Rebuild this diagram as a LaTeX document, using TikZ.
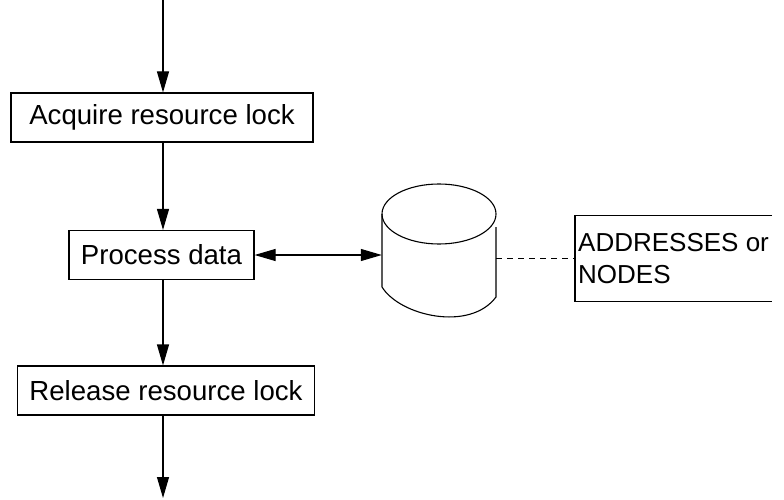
\documentclass[tikz,border=0pt]{standalone}
\usepackage{fontspec}
\setmainfont{Liberation Sans}
\usetikzlibrary{arrows.meta}

\tikzset{
  stepbox/.style={draw, line width=1.1pt, inner xsep=12pt, inner ysep=0pt, minimum height=49pt},
  flow/.style={line width=1.1pt, -{Triangle[length=21pt,width=12pt]}},
  dflow/.style={line width=1.1pt, {Triangle[length=21pt,width=12pt]}-{Triangle[length=21pt,width=12pt]}},
}

\begin{document}
\begin{tikzpicture}[x=1pt,y=-1pt,font=\fontsize{27.6}{32}\selectfont]
    \useasboundingbox (0,0) rectangle (784,500);

    \coordinate (start) at (163,0);
    \node[stepbox, minimum width=302pt] (acquire) at (162,117.5) {Acquire resource lock};
    \node[stepbox] (process) at (161.5,255) {Process data};
    \node[stepbox, minimum width=296pt] (release) at (166,390.5) {Release resource lock};
    \coordinate (finish) at (163,498);

    \draw[flow] (start) -- (start |- acquire.north);
    \draw[flow] (acquire.south -| start) -- (start |- process.north);
    \draw[flow] (process.south -| start) -- (start |- release.north);
    \draw[flow] (release.south -| start) -- (finish);

    % storage drum
    \draw[line width=1.1pt] (439,214) ellipse [x radius=57, y radius=30];
    \draw[line width=1.1pt] (382,214) -- (382,287) .. controls (400,316) and (470,332) .. (496,297) -- (496,227);
    \node[inner sep=0pt, minimum width=114pt, minimum height=132pt] (store) at (439,251) {};

    \draw[dflow] (process.east) -- (process.east -| store.west);

    % annotation
    \node[font=\fontsize{26}{32}\selectfont, inner xsep=3pt, inner ysep=0pt, minimum height=85pt, align=left, anchor=west] (note) at (575,258.5) {ADDRESSES or\\NODES};
    \draw[line width=1.1pt] (note.north east) -- (note.north west) -- (note.south west) -- (note.south east);
    \draw[line width=1pt, dash pattern=on 6pt off 5pt] (store.east |- note.west) -- (note.west);
\end{tikzpicture}
\end{document}
